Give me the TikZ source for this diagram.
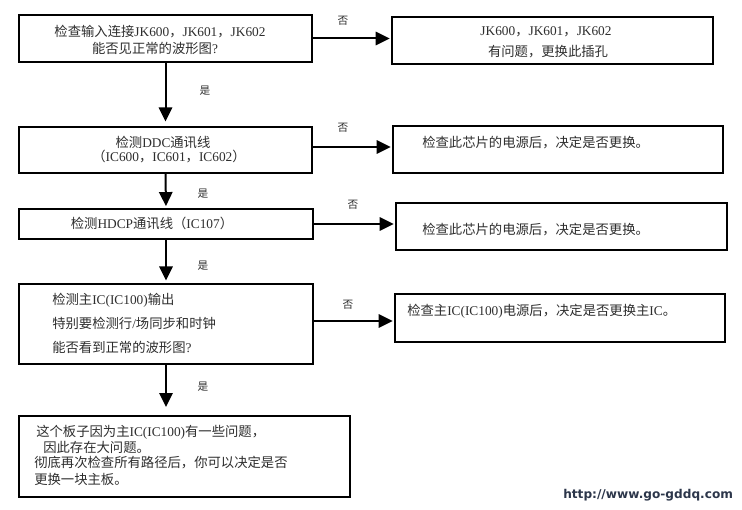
\documentclass[tikz,border=0pt]{standalone}
\usepackage{fontspec}
\setmainfont{Liberation Serif}
\newfontfamily\cjk{Noto Sans CJK SC}
\newfontfamily\wmfont{DejaVu Sans}
\usetikzlibrary{arrows.meta,fit}
\newcommand\zh[1]{{\cjk #1}}
\definecolor{txt}{rgb}{0.18,0.18,0.18}
\definecolor{wm}{RGB}{44,54,74}
\begin{document}
\begin{tikzpicture}[x=0.75pt,y=-0.75pt,
  box/.style={draw=black,line width=1.4pt,inner sep=0pt,fill=none},
  arr/.style={line width=1.5pt,-{Triangle[length=10.5pt,width=10pt]}},
  txtnode/.style={inner sep=0pt,text=txt,font=\fontsize{10}{12}\selectfont},
  lbl/.style={inner sep=0pt,text=txt,font=\fontsize{8}{10}\selectfont\cjk}]
\useasboundingbox[fill=white] (0,0) rectangle (742,510);
% left column boxes
\node[box,fit={(19,15) (312,62)}] (b1) {};
\node[box,fit={(19,127) (312,173)}] (b2) {};
\node[box,fit={(19,209) (313,239)}] (b3) {};
\node[box,fit={(19,284) (313,364)}] (b4) {};
\node[box,fit={(19,416) (350,497)}] (b5) {};
% right column boxes
\node[box,fit={(392,17) (713,64)}] (r1) {};
\node[box,fit={(393,126) (723,173)}] (r2) {};
\node[box,fit={(396,203) (727,250)}] (r3) {};
\node[box,fit={(395,294) (725,342)}] (r4) {};
% texts
\node[txtnode] (t1a) at (160,32) {\zh{检查输入连接}JK600\zh{，}JK601\zh{，}JK602};
\node[txtnode] (t1b) at (155,48) {\zh{能否见正常的波形图}?};
\node[txtnode] (t2a) at (163,142) {\zh{检测}DDC\zh{通讯线}};
\node[txtnode] (t2b) at (169,157) {\zh{（}IC600\zh{，}IC601\zh{，}IC602\zh{）}};
\node[txtnode] (t3) at (152,223) {\zh{检测}HDCP\zh{通讯线（}IC107\zh{）}};
\node[txtnode,anchor=west] (t4a) at (52,300) {\zh{检测主}IC(IC100)\zh{输出}};
\node[txtnode,anchor=west] (t4b) at (52,323) {\zh{特别要检测行}/\zh{场同步和时钟}};
\node[txtnode,anchor=west] (t4c) at (52,347) {\zh{能否看到正常的波形图}?};
\node[txtnode,anchor=west] (t5a) at (36,432) {\zh{这个板子因为主}IC(IC100)\zh{有一些问题，}};
\node[txtnode,anchor=west] (t5b) at (43,447) {\zh{因此存在大问题。}};
\node[txtnode,anchor=west] (t5c) at (34,463) {\zh{彻底再次检查所有路径后，你可以决定是否}};
\node[txtnode,anchor=west] (t5d) at (34,479) {\zh{更换一块主板。}};
\node[txtnode] (tr1a) at (546,32) {JK600\zh{，}JK601\zh{，}JK602};
\node[txtnode] (tr1b) at (548,52) {\zh{有问题，更换此插孔}};
\node[txtnode,anchor=west] (tr2) at (422,143) {\zh{检查此芯片的电源后，决定是否更换。}};
\node[txtnode,anchor=west] (tr3) at (422,230) {\zh{检查此芯片的电源后，决定是否更换。}};
\node[txtnode,anchor=west] (tr4) at (407,311) {\zh{检查主}IC(IC100)\zh{电源后，决定是否更换主}IC\zh{。}};
% vertical connectors
\draw[arr,shorten >=3.5pt] (b1.south) -- (b2.north);
\draw[arr,shorten >=1.5pt] (b2.south) -- (b3.north);
\draw[arr,shorten >=2pt] (b3.south) -- (b4.north);
\draw[arr,shorten >=6pt] (b4.south) -- (b4.south |- b5.north);
% horizontal connectors
\draw[arr,shorten >=1pt] (b1.east) -- (b1.east -| r1.west);
\draw[arr,shorten >=1pt] ([yshift=2.25pt]b2.east) -- ([yshift=2.25pt]b2.east -| r2.west);
\draw[arr,shorten >=1pt] (b3.east) -- (b3.east -| r3.west);
\draw[arr,shorten >=1pt] ([yshift=2.25pt]b4.east) -- ([yshift=2.25pt]b4.east -| r4.west);
% labels
\node[lbl] (y1) at (205,91) {是};
\node[lbl] (y2) at (203,194) {是};
\node[lbl] (y3) at (203,266) {是};
\node[lbl] (y4) at (203,387) {是};
\node[lbl] (n1) at (343,21) {否};
\node[lbl] (n2) at (343,128) {否};
\node[lbl] (n3) at (353,205) {否};
\node[lbl] (n4) at (348,305) {否};
% watermark
\node[inner sep=0pt,anchor=west,text=wm,font=\wmfont\bfseries\fontsize{9.1}{11}\selectfont] (wm) at (563,495) {http://www.go-gddq.com};
\end{tikzpicture}
\end{document}
